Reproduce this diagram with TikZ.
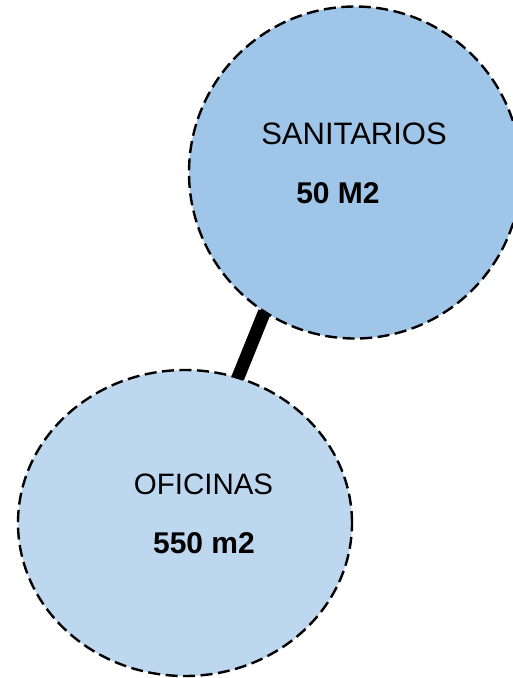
\documentclass[tikz,border=0pt]{standalone}
\usepackage{fontspec}
\setmainfont{Liberation Sans}
\usetikzlibrary{shapes.geometric}
\definecolor{fillA}{HTML}{9FC5E8}
\definecolor{fillB}{HTML}{BDD7EE}
\tikzset{
  room/.style={ellipse, draw=black, line width=2.4pt, dash pattern=on 12pt off 5.5pt, inner sep=0pt, outer sep=0pt},
  lbl/.style={anchor=base, inner sep=0pt},
  link/.style={line width=13pt, line cap=butt, draw=black}
}
\begin{document}
\begin{tikzpicture}[x=1pt,y=-1pt]
\useasboundingbox (0,0) rectangle (513,678);
\clip (0,0) rectangle (513,678);
\node[room, fill=fillA, minimum width=332pt, minimum height=332pt] (san) at (355,172.5) {};
\node[room, fill=fillB, minimum width=334pt, minimum height=306pt] (ofi) at (185,523) {};
\draw[link] (san.237.9) -- (ofi.70.75);
\node[lbl, font=\fontsize{31}{37}\selectfont] (t1) at (354,144) {SANITARIOS};
\node[lbl, font=\fontsize{30}{36}\selectfont\bfseries] (t2) at (338,203) {50 M2};
\node[lbl, font=\fontsize{29.5}{35}\selectfont] (t3) at (203.5,494) {OFICINAS};
\node[lbl, font=\fontsize{30}{36}\selectfont\bfseries] (t4) at (204,553) {550 m2};
\end{tikzpicture}
\end{document}
